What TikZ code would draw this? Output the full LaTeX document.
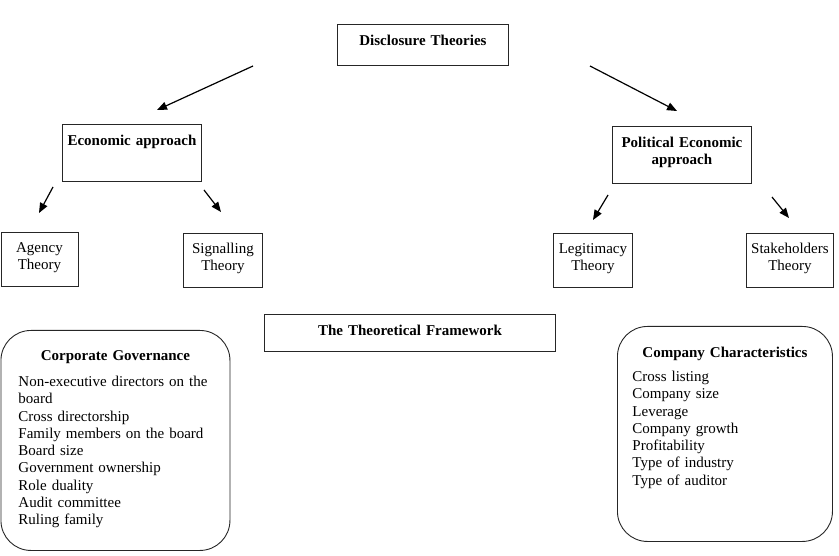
\documentclass[tikz,border=0pt]{standalone}
\usepackage{fontspec}
\setmainfont{Liberation Serif}
\usetikzlibrary{arrows.meta,positioning}

\begin{document}
\begin{tikzpicture}[
    x=1pt, y=-1pt,
    every node/.style={font=\fontsize{15}{17.3}\selectfont},
    box/.style={draw=black!85, line width=0.9pt, anchor=north west, inner sep=0pt, align=center},
    theory/.style={box, text width=#1, text height=20pt, text depth=34pt},
    group/.style={draw=black!85, line width=0.9pt, rounded corners=30pt, anchor=north west, inner ysep=0pt, align=left},
    arr/.style={-{Triangle[length=10pt,width=8pt]}, line width=1.2pt},
]
    \useasboundingbox (0,0) rectangle (839,556);

    \node[box, text width=171pt, text height=21pt, text depth=20pt] (disc) at (337,24) {\textbf{Disclosure Theories}};

    \node[box, text width=139pt, text height=21pt, text depth=36pt] (econ) at (62,124) {\textbf{Economic approach}};
    \node[box, text width=139pt, text height=21pt, text depth=36pt] (polit) at (612,126) {\textbf{Political Economic}\\\textbf{approach}};

    \node[theory=77pt] (agency) at (0.5,232) {Agency\\Theory};
    \node[theory=79pt] (signal) at (183,233) {Signalling\\Theory};
    \node[theory=79pt] (legit) at (553,233) {Legitimacy\\Theory};
    \node[theory=87pt] (stake) at (746,233) {Stakeholders\\Theory};

    \node[box, text width=291pt, text height=21pt, text depth=16pt] (frame) at (264,314) {\textbf{The Theoretical Framework}};

    \node[group, inner xsep=17.5pt, text width=194pt, text height=30pt, text depth=190pt] (corpgov) at (0.5,330) {
        \makebox[\linewidth]{\textbf{Corporate Governance}}\\[8.7pt]
        Non-executive directors on the\\
        board\\
        Cross directorship\\
        Family members on the board\\
        Board size\\
        Government ownership\\
        Role duality\\
        Audit committee\\
        Ruling family
    };

    \node[group, inner xsep=15pt, text width=185pt, text height=31pt, text depth=184pt] (compchar) at (617,326) {
        \makebox[\linewidth]{\textbf{Company Characteristics}}\\[6.7pt]
        Cross listing\\
        Company size\\
        Leverage\\
        Company growth\\
        Profitability\\
        Type of industry\\
        Type of auditor
    };

    % free arrow ends
    \coordinate (disc-l) at (253,66);
    \coordinate (econ-in) at (157,110);
    \coordinate (disc-r) at (590,66);
    \coordinate (polit-in) at (677,111);
    \coordinate (econ-l) at (53,187);
    \coordinate (agency-in) at (39,213);
    \coordinate (econ-r) at (204,190);
    \coordinate (signal-in) at (221,212);
    \coordinate (polit-l) at (608,195);
    \coordinate (legit-in) at (593,220);
    \coordinate (polit-r) at (772,197);
    \coordinate (stake-in) at (789,218);

    \draw[arr] (disc-l) -- (econ-in);
    \draw[arr] (disc-r) -- (polit-in);
    \draw[arr] (econ-l) -- (agency-in);
    \draw[arr] (econ-r) -- (signal-in);
    \draw[arr] (polit-l) -- (legit-in);
    \draw[arr] (polit-r) -- (stake-in);
\end{tikzpicture}
\end{document}
